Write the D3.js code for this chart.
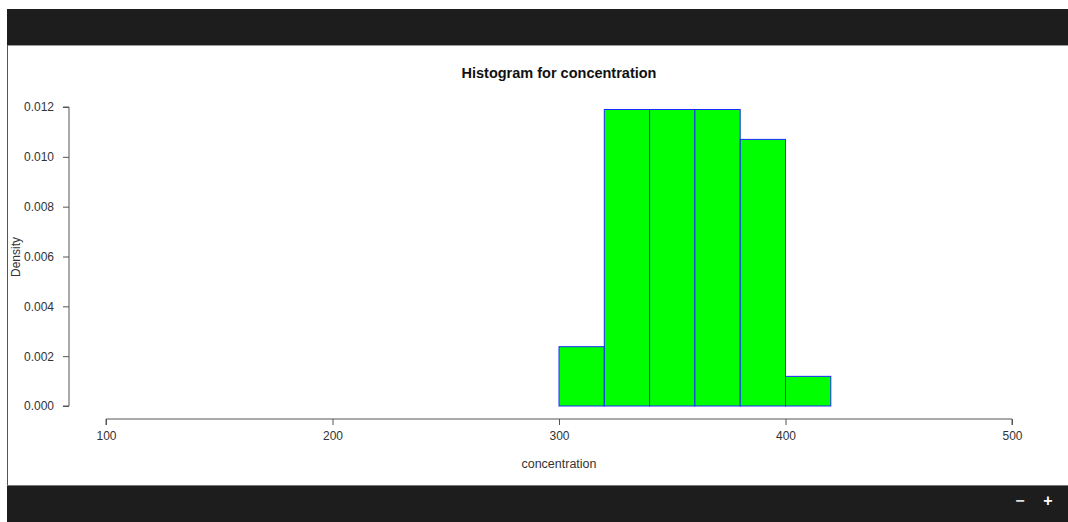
<!DOCTYPE html>
<html>
<head>
<meta charset="utf-8">
<script src="https://cdn.jsdelivr.net/npm/d3@7"></script>
<style>
  body { margin: 0; background: #fff; }
  svg { display: block; font-family: "Liberation Sans", Arial, sans-serif; }
</style>
</head>
<body>
<svg id="chart" width="1068" height="522"></svg>
<script>
// histogram bins (concentration) and their densities
var binStarts = [300, 320, 340, 360, 380, 400];
var binWidth = 20;
var densities = [0.00238, 0.0119, 0.0119, 0.0119, 0.0107, 0.00119];
var xTicks = [100, 200, 300, 400, 500];
var yTicks = [0, 0.002, 0.004, 0.006, 0.008, 0.010, 0.012];

var svg = d3.select("#chart");

// window chrome: dark toolbars top and bottom
svg.append("rect").attr("x", 7).attr("y", 9).attr("width", 1061).attr("height", 36).attr("fill", "#1d1d1d");
svg.append("line").attr("x1", 7).attr("x2", 1068).attr("y1", 45.5).attr("y2", 45.5).attr("stroke", "#9a9a9a");
svg.append("line").attr("x1", 7.5).attr("x2", 7.5).attr("y1", 45).attr("y2", 485).attr("stroke", "#555");
svg.append("rect").attr("x", 7).attr("y", 485).attr("width", 1061).attr("height", 37).attr("fill", "#1d1d1d");
svg.append("line").attr("x1", 7).attr("x2", 1068).attr("y1", 485.5).attr("y2", 485.5).attr("stroke", "#777");
svg.append("text").attr("x", 1020).attr("y", 506).attr("text-anchor", "middle")
  .attr("fill", "#ddd").attr("font-size", 16).attr("font-weight", "bold").text("\u2212");
svg.append("text").attr("x", 1048).attr("y", 506).attr("text-anchor", "middle")
  .attr("fill", "#fff").attr("font-size", 16).attr("font-weight", "bold").text("+");

var x = d3.scaleLinear().domain([100, 500]).range([106, 1012]);
var y = d3.scaleLinear().domain([0, 0.012]).range([406, 107]);

// bars
svg.append("g").selectAll("rect").data(binStarts).enter().append("rect")
  .attr("x", function(d) { return x(d); })
  .attr("y", function(d, i) { return y(densities[i]); })
  .attr("width", function(d) { return x(d + binWidth) - x(d); })
  .attr("height", function(d, i) { return y(0) - y(densities[i]); })
  .attr("fill", "#00ff00")
  .attr("stroke", "#1a2bff")
  .attr("stroke-width", 1);

// x axis
var xAxis = svg.append("g").attr("transform", "translate(0,419)")
  .call(d3.axisBottom(x).tickValues(xTicks).tickSize(6).tickPadding(6).tickFormat(d3.format("d")));
// y axis
var yAxis = svg.append("g").attr("transform", "translate(69,0)")
  .call(d3.axisLeft(y).tickValues(yTicks).tickSize(6).tickPadding(9).tickFormat(d3.format(".3f")));

[xAxis, yAxis].forEach(function(a) {
  a.select(".domain").attr("stroke", "#555");
  a.selectAll(".tick line").attr("stroke", "#555");
  a.selectAll(".tick text").attr("fill", "#333").attr("font-size", 12)
    .attr("font-family", "Liberation Sans, Arial, sans-serif");
});
// R-style domain: no end caps
xAxis.select(".domain").attr("d", "M" + x(100) + ",6V0H" + x(500) + "V6");
yAxis.select(".domain").attr("d", "M-6," + y(0) + "H0V" + y(0.012) + "H-6");

// labels
svg.append("text").attr("x", 559).attr("y", 78).attr("text-anchor", "middle")
  .attr("font-size", 14.5).attr("font-weight", "bold").attr("fill", "#111")
  .text("Histogram for concentration");
svg.append("text").attr("x", 559).attr("y", 468).attr("text-anchor", "middle")
  .attr("font-size", 12.5).attr("fill", "#333").text("concentration");
svg.append("text").attr("transform", "translate(20,257) rotate(-90)").attr("text-anchor", "middle")
  .attr("font-size", 12).attr("fill", "#333").text("Density");
</script>
</body>
</html>
